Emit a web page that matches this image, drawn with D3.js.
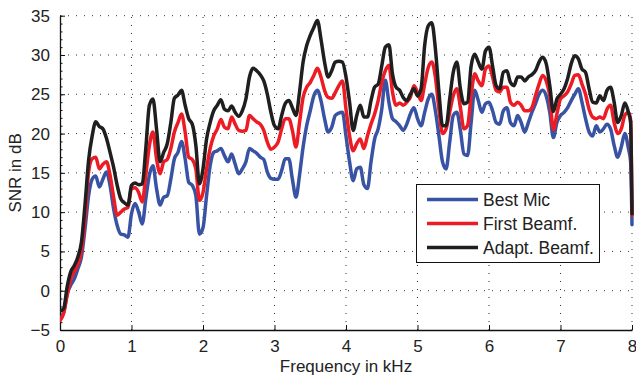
<!DOCTYPE html>
<html>
<head>
<meta charset="utf-8">
<script src="https://cdn.jsdelivr.net/npm/d3@7"></script>
<style>
  body { margin: 0; background: #fff; }
  text { font-family: "Liberation Sans", Arial, sans-serif; fill: #222; }
</style>
</head>
<body>
<div id="vis"></div>
<script>
// frequency grid in kHz (0.05 steps, plus the edge point before the drop at 8 kHz)
var freq = d3.range(160).map(function(i) { return i / 20; }).concat([7.98, 8]);

// SNR in dB, one row per kHz
var bestMic = [
  -3.5, -2.8, -0.4, 0.7, 1.5, 2.8, 4.3, 7.9, 12.1, 14.2, 14.6, 13.2, 14.2, 15.1, 13.4, 10.4, 8.3, 7.2, 7.1, 6.8,
  9.8, 11.1, 10.0, 8.5, 11.7, 14.7, 15.9, 13.0, 10.9, 11.9, 12.1, 14.2, 16.8, 17.6, 19.0, 16.8, 13.8, 13.4, 12.1, 7.2,
  8.0, 12.1, 15.9, 17.6, 17.8, 18.1, 17.2, 16.4, 17.4, 16.1, 14.9, 15.5, 16.4, 18.1, 17.8, 17.5, 17.0, 16.7, 15.1, 14.3,
  14.2, 14.2, 15.3, 16.8, 16.8, 14.2, 11.9, 14.7, 18.3, 21.0, 22.9, 24.8, 25.5, 24.2, 21.9, 20.2, 20.8, 22.3, 22.6, 22.7,
  19.7, 16.4, 14.0, 15.5, 15.7, 13.5, 13.0, 16.4, 19.3, 20.6, 23.1, 26.8, 24.0, 21.9, 21.5, 21.0, 20.4, 21.2, 22.5, 23.3,
  21.9, 21.0, 22.7, 24.4, 25.0, 22.9, 19.7, 16.4, 15.5, 18.9, 22.3, 22.7, 20.4, 17.4, 17.2, 21.4, 25.5, 24.2, 22.7, 23.8,
  24.0, 22.9, 21.4, 21.2, 22.9, 23.3, 21.4, 21.0, 22.3, 21.4, 20.2, 21.4, 22.7, 23.8, 25.0, 25.5, 24.8, 22.7, 19.5, 21.4,
  22.3, 22.7, 23.3, 24.2, 25.0, 25.7, 24.0, 21.9, 20.2, 19.7, 21.0, 20.2, 20.6, 21.2, 20.6, 18.5, 17.0, 18.3, 20.0, 18.1,
  16.5, 8.4
];
var firstBeamf = [
  -3.8, -2.9, -0.6, 1.5, 2.4, 3.4, 5.1, 9.2, 15.1, 16.8, 17.0, 15.5, 16.1, 16.4, 14.7, 11.9, 9.6, 10.0, 10.4, 10.6,
  13.0, 13.1, 12.5, 11.3, 14.7, 18.5, 20.2, 16.8, 14.9, 16.4, 16.7, 18.1, 20.2, 21.4, 22.5, 20.2, 17.0, 16.7, 15.5, 11.5,
  12.5, 15.5, 18.1, 19.7, 20.6, 21.8, 20.8, 20.6, 22.1, 21.2, 20.4, 20.3, 20.4, 22.3, 21.9, 21.5, 21.2, 20.4, 18.9, 18.0,
  18.3, 18.9, 20.6, 21.9, 21.9, 20.4, 18.3, 21.4, 24.6, 25.9, 26.5, 27.4, 28.3, 27.2, 25.5, 24.6, 24.5, 25.2, 26.1, 26.7,
  23.1, 19.7, 17.8, 18.7, 19.3, 18.1, 19.7, 21.2, 22.5, 24.2, 26.5, 28.0, 28.7, 25.3, 23.6, 23.9, 23.6, 24.0, 24.6, 26.1,
  25.3, 24.2, 26.3, 28.4, 29.1, 27.2, 23.1, 20.0, 20.6, 22.7, 24.8, 25.7, 23.3, 20.6, 21.0, 24.8, 27.6, 26.7, 26.1, 28.2,
  28.6, 27.2, 25.5, 25.3, 25.9, 25.9, 24.0, 23.6, 24.0, 23.6, 22.9, 22.9, 23.3, 24.8, 26.3, 27.4, 26.7, 24.8, 20.5, 22.5,
  24.4, 24.8, 25.3, 26.3, 27.4, 27.5, 26.3, 25.0, 23.1, 22.1, 21.9, 22.1, 21.9, 23.1, 23.6, 21.4, 20.0, 20.6, 22.3, 22.7,
  21.8, 9.6
];
var adaptBeamf = [
  -2.6, -2.3, 0.5, 2.4, 3.2, 4.3, 6.2, 11.0, 16.6, 19.7, 21.5, 20.9, 20.6, 19.4, 17.6, 15.7, 13.4, 11.7, 11.2, 10.9,
  13.4, 13.7, 13.5, 13.6, 18.1, 23.6, 24.4, 20.6, 16.4, 17.6, 18.7, 21.4, 24.5, 24.9, 25.5, 23.6, 21.9, 21.2, 18.5, 13.6,
  15.5, 19.3, 21.4, 22.9, 23.6, 24.3, 23.1, 22.9, 23.5, 22.7, 22.2, 22.9, 24.4, 27.2, 28.3, 28.0, 27.5, 26.7, 25.0, 22.7,
  21.0, 20.6, 22.3, 23.8, 24.2, 23.3, 22.3, 25.3, 29.1, 31.2, 32.5, 33.5, 34.4, 32.0, 29.1, 27.2, 28.0, 29.1, 29.2, 29.1,
  27.2, 24.0, 20.4, 22.3, 23.6, 22.1, 22.1, 24.2, 25.9, 26.3, 28.6, 31.0, 31.3, 27.6, 25.9, 25.5, 24.6, 24.2, 25.0, 25.7,
  24.8, 25.7, 31.2, 33.7, 34.1, 30.8, 25.3, 21.0, 21.0, 24.4, 27.8, 29.1, 25.7, 23.8, 24.0, 28.6, 30.1, 29.1, 28.2, 30.5,
  31.0, 28.6, 26.1, 25.7, 27.8, 28.0, 26.5, 26.1, 27.2, 27.2, 26.7, 27.2, 27.5, 28.0, 29.1, 29.7, 28.9, 26.1, 22.8, 24.4,
  25.0, 25.7, 27.0, 28.9, 29.9, 29.5, 28.2, 27.8, 25.7, 24.0, 23.9, 24.8, 24.2, 25.5, 25.9, 24.0, 21.4, 22.3, 23.9, 22.7,
  21.5, 9.8
];

var seriesNames = ["Best Mic", "First Beamf.", "Adapt. Beamf."];
var seriesColors = ["#3953a4", "#ed1c24", "#1f1f1f"];
var xTicks = [0, 1, 2, 3, 4, 5, 6, 7, 8];
var yTicks = [-5, 0, 5, 10, 15, 20, 25, 30, 35];
var yMinorTicks = d3.range(-5, 36, 1);

var width = 636, height = 376;
var plotLeft = 60, plotRight = 632, plotTop = 15.7, plotBottom = 330;

var svg = d3.select("#vis").append("svg")
  .attr("width", width)
  .attr("height", height);

var x = d3.scaleLinear().domain([0, 8]).range([plotLeft, plotRight]);
var y = d3.scaleLinear().domain([-5, 35]).range([plotBottom, plotTop]);

// dotted grid
svg.append("g").selectAll("line")
  .data(xTicks.slice(1)).enter()
  .append("line")
  .attr("x1", function(d) { return x(d); })
  .attr("x2", function(d) { return x(d); })
  .attr("y1", plotBottom)
  .attr("y2", plotTop)
  .attr("stroke", "#333")
  .attr("stroke-width", 1)
  .attr("stroke-dasharray", "1,7");

svg.append("g").selectAll("line")
  .data(yTicks.slice(1)).enter()
  .append("line")
  .attr("x1", plotLeft)
  .attr("x2", plotRight)
  .attr("y1", function(d) { return y(d); })
  .attr("y2", function(d) { return y(d); })
  .attr("stroke", "#333")
  .attr("stroke-width", 1)
  .attr("stroke-dasharray", "1,7");

// axes
var xAxis = d3.axisBottom(x).tickValues(xTicks).tickSizeInner(-5).tickSizeOuter(0).tickPadding(10);
var gx = svg.append("g").attr("transform", "translate(0," + plotBottom + ")").call(xAxis);

var yAxis = d3.axisLeft(y).tickValues(yTicks).tickSizeInner(-5).tickSizeOuter(0).tickPadding(10);
var gy = svg.append("g").attr("transform", "translate(" + plotLeft + ",0)").call(yAxis);

var yMinor = d3.axisLeft(y).tickValues(yMinorTicks).tickSize(-2.5).tickFormat("");
var gym = svg.append("g").attr("transform", "translate(" + plotLeft + ",0)").call(yMinor);
gym.select(".domain").remove();

[gx, gy, gym].forEach(function(g) {
  g.selectAll(".domain").attr("stroke", "#111").attr("stroke-width", 1.3);
  g.selectAll(".tick line").attr("stroke", "#111").attr("stroke-width", 1);
  g.selectAll(".tick text")
    .style("font-family", "Liberation Sans, Arial, sans-serif")
    .style("font-size", "17px")
    .attr("fill", "#222");
});
gy.selectAll(".tick text").text(function(d) { return d < 0 ? "\u2212" + Math.abs(d) : d; });

// axis titles
svg.append("text")
  .attr("x", (plotLeft + plotRight) / 2)
  .attr("y", 371.5)
  .attr("text-anchor", "middle")
  .style("font-size", "17px")
  .text("Frequency in kHz");

svg.append("text")
  .attr("transform", "translate(21," + ((plotTop + plotBottom) / 2) + ") rotate(-90)")
  .attr("text-anchor", "middle")
  .style("font-size", "17px")
  .text("SNR in dB");

// curves
svg.append("clipPath").attr("id", "plot")
  .append("rect")
  .attr("x", plotLeft).attr("y", plotTop - 2)
  .attr("width", plotRight - plotLeft + 2).attr("height", plotBottom - plotTop + 2);

var line = d3.line()
  .x(function(d) { return x(d[0]); })
  .y(function(d) { return y(d[1]); })
  .curve(d3.curveMonotoneX);

var allSeries = [bestMic, firstBeamf, adaptBeamf];

svg.append("g").attr("clip-path", "url(#plot)")
  .selectAll("path")
  .data(allSeries).enter()
  .append("path")
  .attr("d", function(vals) { return line(d3.zip(freq, vals)); })
  .attr("fill", "none")
  .attr("stroke", function(d, i) { return seriesColors[i]; })
  .attr("stroke-width", 3.5)
  .attr("stroke-linejoin", "round")
  .attr("stroke-linecap", "round");

// legend
var legend = svg.append("g");
legend.append("rect")
  .attr("x", 416.5).attr("y", 184.5)
  .attr("width", 183).attr("height", 78)
  .attr("fill", "#fff")
  .attr("stroke", "#111")
  .attr("stroke-width", 1);

var rows = legend.selectAll("g")
  .data(seriesNames).enter()
  .append("g")
  .attr("transform", function(d, i) { return "translate(0," + (199.5 + i * 24) + ")"; });

rows.append("line")
  .attr("x1", 427).attr("x2", 478)
  .attr("y1", 0).attr("y2", 0)
  .attr("stroke", function(d, i) { return seriesColors[i]; })
  .attr("stroke-width", 3.5);

rows.append("text")
  .attr("x", 483)
  .attr("y", 6)
  .style("font-size", "17.5px")
  .text(function(d) { return d; });
</script>
</body>
</html>
